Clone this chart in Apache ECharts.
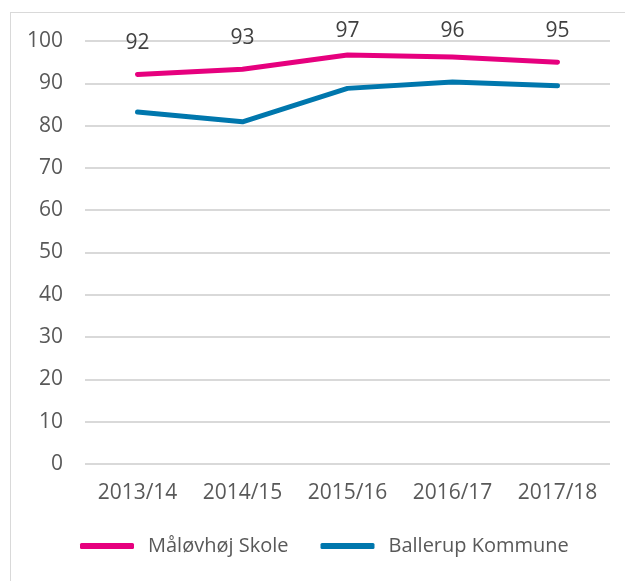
<!DOCTYPE html>
<html>
<head>
<meta charset="utf-8">
<script src="https://cdn.jsdelivr.net/npm/echarts@6/dist/echarts.min.js"></script>
<style>
  html, body { margin: 0; padding: 0; background: #fff; }
  #chart { width: 625px; height: 581px; }
  #frame { position: absolute; left: 10px; top: 12px; width: 640px; height: 600px; border: 1px solid #d9d9d9; box-sizing: border-box; pointer-events: none; }
</style>
</head>
<body>
<div id="chart"></div>
<div id="frame"></div>
<script>
// data
const years = ['2013/14', '2014/15', '2015/16', '2016/17', '2017/18'];
const skole = [92.1, 93.3, 96.7, 96.2, 95.0];
const skoleLabels = ['92', '93', '97', '96', '95'];
const kommune = [83.2, 80.9, 88.8, 90.3, 89.4];
const yTicks = [0, 10, 20, 30, 40, 50, 60, 70, 80, 90, 100];

const txt = '#595959';
const font = '"Open Sans", "Liberation Sans", sans-serif';

let myChart = echarts.init(document.getElementById('chart'));
myChart.setOption({
  animation: false,
  textStyle: { fontFamily: font },
  grid: {
    top: 41,
    left: 85,
    right: 15,
    bottom: 117
  },
  legend: {
    bottom: 20,
    left: 75,
    itemWidth: 54,
    itemHeight: 6,
    itemGap: 32,
    icon: 'roundRect',
    textStyle: { color: txt, fontSize: 20, fontFamily: font, padding: [0, 0, 0, 9] },
    data: ['Måløvhøj Skole', 'Ballerup Kommune']
  },
  xAxis: {
    type: 'category',
    data: years,
    axisLine: { show: false },
    axisTick: { show: false },
    axisLabel: { color: txt, fontSize: 21, margin: 19 }
  },
  yAxis: {
    type: 'value',
    min: yTicks[0],
    max: yTicks[yTicks.length - 1],
    interval: 10,
    axisLine: { show: false },
    axisTick: { show: false },
    axisLabel: { color: txt, fontSize: 21, margin: 22 },
    splitLine: { lineStyle: { color: '#d9d9d9', width: 2 } }
  },
  series: [
    {
      name: 'Måløvhøj Skole',
      type: 'line',
      data: skole,
      symbol: 'circle',
      symbolSize: 2,
      showSymbol: true,
      lineStyle: { color: '#E6007E', width: 5, cap: 'round' },
      itemStyle: { color: '#E6007E' },
      label: {
        show: true,
        position: 'top',
        distance: 20,
        color: '#404040',
        fontSize: 21,
        formatter: p => skoleLabels[p.dataIndex]
      },
      // the original keeps the top labels inside the frame, pushing them down a bit
      labelLayout: function (params) {
        const r = params.labelRect;
        const cy = r.y + r.height / 2;
        return { dy: Math.max(0, 31 - cy) };
      }
    },
    {
      name: 'Ballerup Kommune',
      type: 'line',
      data: kommune,
      symbol: 'none',
      lineStyle: { color: '#0077AD', width: 5, cap: 'round' },
      itemStyle: { color: '#0077AD' }
    }
  ]
});
</script>
</body>
</html>
